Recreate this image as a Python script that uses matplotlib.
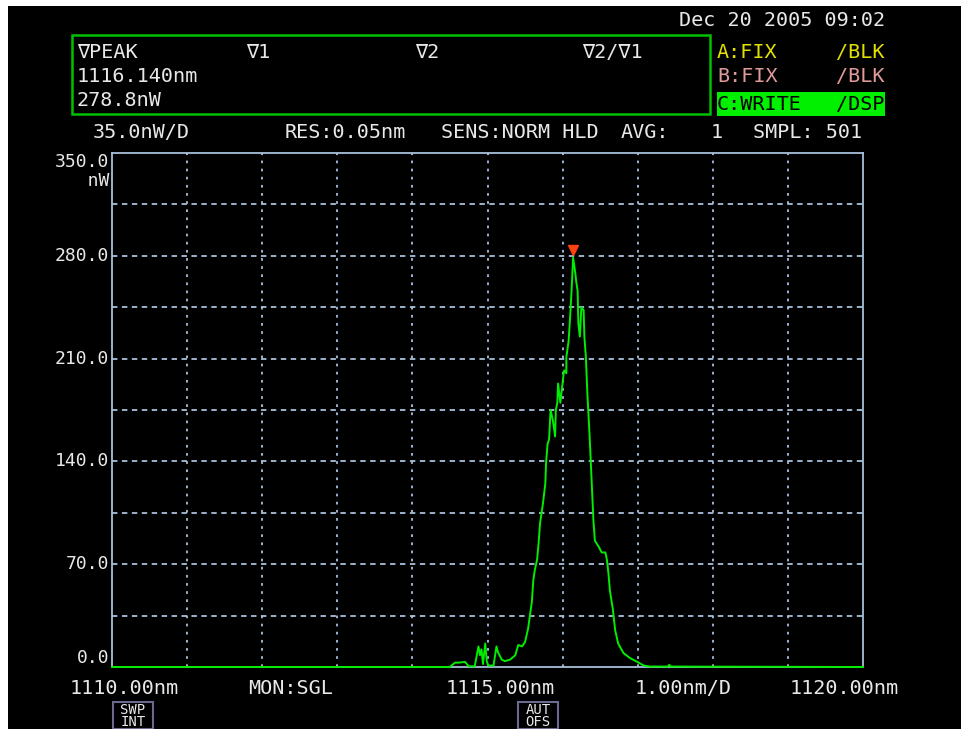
import matplotlib.pyplot as plt
from matplotlib import patches

W, H = 962, 729

# Trace (wavelength in nm, power in nW)
wavelength = [
    1110.00, 1114.50, 1114.52, 1114.57, 1114.63, 1114.70, 1114.75, 1114.83,
    1114.88, 1114.90, 1114.92, 1114.94, 1114.97, 1114.99, 1115.01, 1115.08,
    1115.12, 1115.14, 1115.19, 1115.23, 1115.30, 1115.37, 1115.41, 1115.46,
    1115.50, 1115.54, 1115.57, 1115.59, 1115.61, 1115.63, 1115.66, 1115.68,
    1115.70, 1115.72, 1115.74, 1115.77, 1115.78, 1115.80, 1115.82, 1115.84,
    1115.87, 1115.89, 1115.90, 1115.91, 1115.93, 1115.94, 1115.97, 1115.99,
    1116.01, 1116.02, 1116.05, 1116.05, 1116.08, 1116.10, 1116.12, 1116.14,
    1116.17, 1116.18, 1116.20, 1116.21, 1116.23, 1116.25, 1116.28, 1116.29,
    1116.31, 1116.33, 1116.36, 1116.39, 1116.41, 1116.43, 1116.48, 1116.52,
    1116.57, 1116.59, 1116.61, 1116.63, 1116.67, 1116.70, 1116.74, 1116.81,
    1116.90, 1116.99, 1117.08, 1117.16, 1117.40, 1117.42, 1117.44, 1120.00,
]
power = [
    0.0, 0.0, 1.0, 3.0, 3.0, 3.5, 0.5, 0.5,
    14.0, 8.0, 12.0, 2.0, 16.0, 4.0, 1.0, 1.0,
    14.0, 10.0, 5.0, 4.0, 5.0, 8.0, 15.0, 14.0,
    17.0, 26.0, 37.0, 44.0, 59.0, 66.0, 73.0, 84.0,
    98.0, 105.0, 112.0, 125.0, 139.0, 152.0, 155.0, 175.0,
    168.0, 161.0, 157.0, 175.0, 180.0, 193.0, 180.0, 189.0,
    198.0, 202.0, 200.0, 211.0, 222.0, 238.0, 257.0, 278.8,
    268.0, 263.0, 256.0, 234.0, 225.0, 245.0, 243.0, 225.0,
    211.0, 186.0, 157.0, 123.0, 100.0, 86.0, 82.0, 78.0,
    78.0, 73.0, 64.0, 52.0, 39.0, 25.0, 16.0, 9.5,
    6.0, 3.6, 1.0, 0.3, 0.3, 1.5, 0.3, 0.0,
]
peak_wl = 1116.140
peak_pw = 278.8

y_ticks = [0.0, 70.0, 140.0, 210.0, 280.0, 350.0]
y_labels = ["0.0", "70.0", "140.0", "210.0", "280.0", "350.0\n   nW"]

header_cols = ["\u2207PEAK", "\u22071", "\u22072", "\u22072/\u22071"]
header_vals = ["1116.140nm", "278.8nW"]
status_items = ["35.0nW/D", "RES:0.05nm", "SENS:NORM HLD", "AVG:", "1", "SMPL: 501"]
bottom_items = ["1110.00nm", "MON:SGL", "1115.00nm", "1.00nm/D", "1120.00nm"]

MONO = ["DejaVu Sans Mono"]
FS = 14.5
WHITE = "#e8e8e8"
GREEN = "#00ee00"
GRID = "#a8c0dc"


def px(x, y):
    """Pixel position (from the top left) to figure fraction."""
    return x / W, 1 - y / H


def ftext(x, y, s, **kw):
    kw.setdefault("color", WHITE)
    kw.setdefault("fontsize", FS)
    kw.setdefault("family", MONO)
    kw.setdefault("va", "center")
    fig.text(*px(x, y), s, **kw)


fig = plt.figure(figsize=(W / 100, H / 100), dpi=100, facecolor="white")

# Black screen area, kept behind the axes
fig.patches.append(patches.Rectangle(px(8, H), (W - 8) / W, (H - 6) / H,
                                     transform=fig.transFigure, facecolor="black",
                                     edgecolor="none", zorder=-5))

ax = fig.add_axes([112 / W, 62 / H, (863 - 112) / W, (667 - 153) / H])
ax.set_facecolor("black")
ax.set_xlim(1110, 1120)
ax.set_ylim(0, 350)
for s in ax.spines.values():
    s.set_color(GRID)
    s.set_linewidth(1.3)

# Grid: 10 x 10 divisions
for i in range(1, 10):
    ax.axvline(1110 + i, color=GRID, lw=1.3, ls=(0, (1.5, 3)), zorder=1)
    ax.axhline(35 * i, color=GRID, lw=1.3, ls=(0, (3, 2.5)), zorder=1)

ax.plot(wavelength, power, color=GREEN, lw=1.4, zorder=3, clip_on=False)
ax.plot([peak_wl], [peak_pw + 5], marker="v", color="#ff4010", ms=7, zorder=4)

ax.set_yticks(y_ticks)
ax.set_yticklabels(y_labels, family=MONO, fontsize=FS - 1.5, color=WHITE,
                   linespacing=1.05)
for lbl, v in zip(ax.get_yticklabels(), y_ticks):
    lbl.set_va("center" if v < 350 else "top")
    if v == 0:
        lbl.set_va("bottom")
ax.tick_params(axis="y", length=0, pad=2)
ax.set_xticks([])

# Header box
fig.patches.append(patches.Rectangle(px(72, 114), (710 - 72) / W, (114 - 35) / H,
                                     transform=fig.transFigure, facecolor="none",
                                     edgecolor="#00c000", lw=1.8))
for x, s in zip([77, 246, 415, 582], header_cols):
    ftext(x, 52, s)
ftext(77, 76, header_vals[0])
ftext(77, 100, header_vals[1])

ftext(885, 20, "Dec 20 2005 09:02", ha="right")
ftext(717, 52, "A:FIX", color="#e0e000")
ftext(885, 52, "/BLK", color="#e0e000", ha="right")
ftext(717, 77, "B:FIX", color="#e09a9a")
ftext(885, 77, "/BLK", color="#e09a9a", ha="right")
fig.patches.append(patches.Rectangle(px(717, 116), (885 - 717) / W, 24 / H,
                                     transform=fig.transFigure, facecolor="#00f000",
                                     edgecolor="none"))
ftext(717, 104, "C:WRITE", color="black")
ftext(885, 104, "/DSP", color="black", ha="right")

for x, s in zip([93, 285, 441, 621, 711, 753], status_items):
    ftext(x, 133, s)

for x, s in zip([70, 248, 446, 635, 790], bottom_items):
    ftext(x, 688, s)

# Soft-key boxes
for x0, txt in [(113, "SWP\nINT"), (518, "AUT\nOFS")]:
    fig.patches.append(patches.Rectangle(px(x0, 729), 40 / W, 27 / H,
                                         transform=fig.transFigure, facecolor="none",
                                         edgecolor="#6a6a90", lw=1.5))
    ftext(x0 + 20, 716, txt, ha="center", fontsize=10, linespacing=0.85)

fig.savefig("out.png", dpi=100, facecolor=fig.get_facecolor())
